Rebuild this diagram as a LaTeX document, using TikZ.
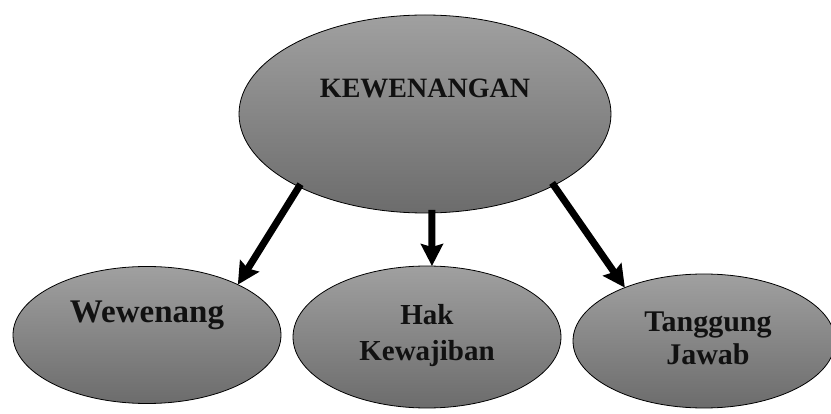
\documentclass[tikz,border=0pt]{standalone}
\usepackage{fontspec}
\setmainfont{Liberation Serif}
\usetikzlibrary{shapes.geometric,arrows.meta}
\definecolor{gtop}{RGB}{160,160,160}
\definecolor{gbot}{RGB}{108,108,108}
\definecolor{ink}{RGB}{17,17,17}
\tikzset{
  bubble/.style={ellipse, draw=black, line width=0.8pt, top color=gtop, bottom color=gbot, inner sep=0pt, outer sep=0pt},
  lbl/.style={anchor=base, align=center, text=ink, inner sep=0pt, font=\bfseries},
  conn/.style={line width=7pt, -{Stealth[length=22pt,width=22pt,inset=3pt]}, shorten <=-3pt}
}
\begin{document}
\begin{tikzpicture}[x=1pt,y=-1pt]
\useasboundingbox (0,0) rectangle (831,414);
\node[bubble, minimum width=372pt, minimum height=198pt] (top) at (425,114) {};
\node[bubble, minimum width=268pt, minimum height=137pt] (wew) at (147,335) {};
\node[bubble, minimum width=268pt, minimum height=142pt] (hak) at (427,337) {};
\node[bubble, minimum width=262pt, minimum height=134pt] (tj) at (704,341) {};
\node[lbl, font=\bfseries\fontsize{28}{30}\selectfont] (t0) at (425,98) {KEWENANGAN};
\node[lbl, font=\bfseries\fontsize{33}{36}\selectfont] (t1) at (147,323) {Wewenang};
\node[lbl, font=\bfseries\fontsize{29}{36}\selectfont] (t2) at (427,361) {Hak\\Kewajiban};
\node[lbl, font=\bfseries\fontsize{30}{33}\selectfont] (t3) at (708,365) {Tanggung\\Jawab};
\draw[conn] (top.210) -- (wew.29);
\draw[conn] (top.274) -- (hak.86);
\draw[conn] (top.331) -- (tj.146);
\end{tikzpicture}
\end{document}
